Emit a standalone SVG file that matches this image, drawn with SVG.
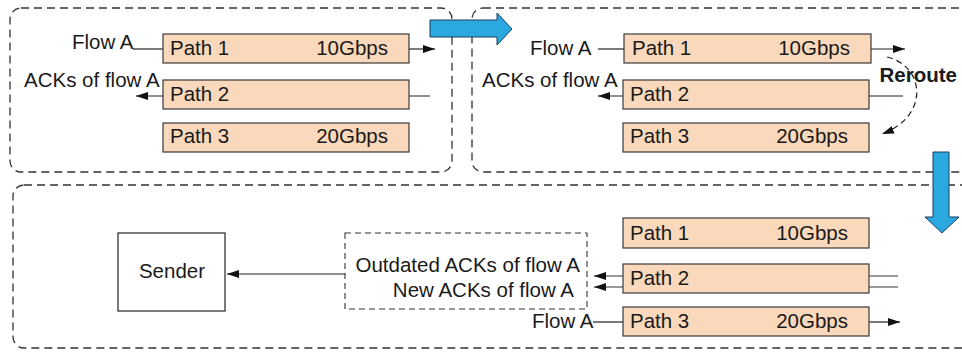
<svg xmlns="http://www.w3.org/2000/svg" width="962" height="353" viewBox="0 0 962 353">
  <style>
    .panel { fill: none; stroke: #333; stroke-width: 1.3; stroke-dasharray: 8 5; }
    .path { fill: #f9d8bb; stroke: #3a3a3a; stroke-width: 1.2; }
    .lbl { font-family: "Liberation Sans", Arial, sans-serif; font-size: 20.5px; fill: #1a1a1a; }
    .end { text-anchor: end; }
    .wire { fill: none; stroke: #222; stroke-width: 1.2; }
    .grey { fill: none; stroke: #777; stroke-width: 1.6; }
    .step { fill: #29a9e0; stroke: #1d3d5c; stroke-width: 1; }
  </style>
  <defs>
    <marker id="tip" viewBox="0 0 12 8" refX="12" refY="4" markerWidth="12" markerHeight="8" markerUnits="userSpaceOnUse" orient="auto">
      <path d="M0 0 L12 4 L0 8 Z" fill="#111"/>
    </marker>
  </defs>

  <!-- stage frames -->
  <g id="stage1"><rect class="panel" x="10" y="8" width="442" height="164" rx="11"/></g>
  <g id="stage2"><rect class="panel" x="472" y="8" width="510" height="164" rx="11"/></g>
  <g id="stage3"><rect class="panel" x="13" y="185" width="969" height="163" rx="11"/></g>

  <!-- connectors -->
  <g id="connectors">
    <!-- stage 1 -->
    <line class="wire" x1="133" y1="49" x2="163" y2="49"/>
    <line class="wire" x1="409" y1="49" x2="435" y2="49" marker-end="url(#tip)"/>
    <line class="wire" x1="430" y1="96" x2="136" y2="96" marker-end="url(#tip)"/>
    <!-- stage 2 -->
    <line class="wire" x1="598" y1="49" x2="624" y2="49"/>
    <line class="wire" x1="871" y1="49" x2="905" y2="49" marker-end="url(#tip)"/>
    <line class="wire" x1="903" y1="96" x2="598" y2="96" marker-end="url(#tip)"/>
    <path class="wire" d="M887 57 C925 66 930 116 882 134" stroke-dasharray="6 4" marker-end="url(#tip)"/>
    <!-- stage 3 -->
    <line class="grey" x1="898" y1="276" x2="594" y2="276" marker-end="url(#tip)"/>
    <line class="grey" x1="898" y1="287" x2="594" y2="287" marker-end="url(#tip)"/>
    <line class="wire" x1="593" y1="322" x2="623" y2="322"/>
    <line class="wire" x1="869" y1="322" x2="900" y2="322" marker-end="url(#tip)"/>
    <line class="wire" x1="345" y1="274" x2="227" y2="274" marker-end="url(#tip)"/>
  </g>

  <!-- stage 1 paths -->
  <g id="s1-path1"><rect class="path" x="163" y="34" width="246" height="29"/><text class="lbl" x="170" y="55">Path 1</text><text class="lbl end" x="388" y="55">10Gbps</text></g>
  <g id="s1-path2"><rect class="path" x="163" y="80" width="246" height="29"/><text class="lbl" x="170" y="101">Path 2</text></g>
  <g id="s1-path3"><rect class="path" x="163" y="123" width="246" height="29"/><text class="lbl" x="170" y="143">Path 3</text><text class="lbl end" x="388" y="143">20Gbps</text></g>
  <text class="lbl" x="72" y="49">Flow A</text>
  <text class="lbl" x="24" y="87">ACKs of flow A</text>

  <!-- stage 2 paths -->
  <g id="s2-path1"><rect class="path" x="624" y="34" width="247" height="29"/><text class="lbl" x="632" y="55">Path 1</text><text class="lbl end" x="850" y="55">10Gbps</text></g>
  <g id="s2-path2"><rect class="path" x="623" y="80" width="246" height="29"/><text class="lbl" x="630" y="101">Path 2</text></g>
  <g id="s2-path3"><rect class="path" x="623" y="123" width="246" height="29"/><text class="lbl" x="630" y="143">Path 3</text><text class="lbl end" x="848" y="143">20Gbps</text></g>
  <text class="lbl" x="530" y="55">Flow A</text>
  <text class="lbl" x="482" y="87">ACKs of flow A</text>
  <text class="lbl end" x="957" y="82" font-weight="bold" font-size="17px">Reroute</text>

  <!-- stage 3 -->
  <g id="sender"><rect x="118" y="233" width="107" height="78" fill="#fff" stroke="#222" stroke-width="1.2"/><text class="lbl" x="172" y="278" text-anchor="middle">Sender</text></g>
  <g id="ack-buffer">
    <rect x="345" y="233" width="242" height="76" fill="none" stroke="#333" stroke-width="1.1" stroke-dasharray="6 4"/>
    <text class="lbl end" x="580" y="272">Outdated ACKs of flow A</text>
    <text class="lbl end" x="574" y="297">New ACKs of flow A</text>
  </g>
  <g id="s3-path1"><rect class="path" x="623" y="218" width="246" height="30"/><text class="lbl" x="630" y="240">Path 1</text><text class="lbl end" x="848" y="240">10Gbps</text></g>
  <g id="s3-path2"><rect class="path" x="623" y="264" width="246" height="29"/><text class="lbl" x="630" y="285">Path 2</text></g>
  <g id="s3-path3"><rect class="path" x="623" y="307" width="246" height="29"/><text class="lbl" x="630" y="328">Path 3</text><text class="lbl end" x="848" y="328">20Gbps</text></g>
  <text class="lbl" x="532" y="328">Flow A</text>

  <!-- step arrows -->
  <g id="step-right"><path class="step" d="M430 20 H497 V13 L512 29 L497 45 V37 H430 Z"/></g>
  <g id="step-down"><path class="step" d="M933 152 H949 V217 H959 L942 233 L925 217 H933 Z"/></g>
</svg>
